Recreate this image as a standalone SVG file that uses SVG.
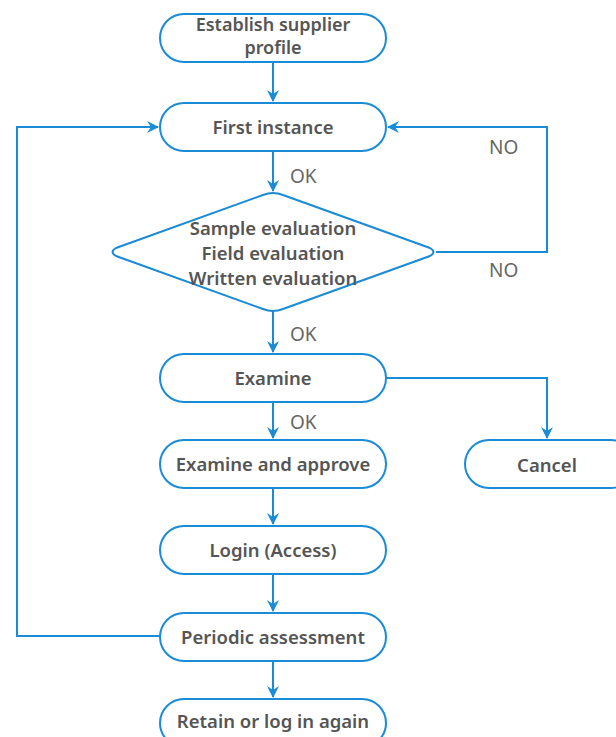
<svg xmlns="http://www.w3.org/2000/svg" width="616" height="737" viewBox="0 0 616 737">
<style>
.n{fill:#fff;stroke:#1a8bd6;stroke-width:2}
.t{font-family:"Noto Sans",sans-serif;font-size:18.5px;font-weight:600;fill:#555;text-anchor:middle}
.s{font-size:18px}
.l{font-family:"Noto Sans",sans-serif;font-size:19px;fill:#666}
.c{fill:none;stroke:#1a8bd6;stroke-width:2}
</style>
<defs>
<marker id="a" viewBox="0 0 12 12" refX="11" refY="6" markerWidth="12" markerHeight="12" markerUnits="userSpaceOnUse" orient="auto">
<path d="M0,0 L12,6 L0,12 L4,6 Z" fill="#1a8bd6"/>
</marker>
</defs>
<g id="connectors">
<path class="c" d="M273,62 V101" marker-end="url(#a)"/>
<path class="c" d="M273,151 V191" marker-end="url(#a)"/>
<path class="c" d="M273,311 V352" marker-end="url(#a)"/>
<path class="c" d="M273,402 V438" marker-end="url(#a)"/>
<path class="c" d="M273,488 V524" marker-end="url(#a)"/>
<path class="c" d="M273,574 V611" marker-end="url(#a)"/>
<path class="c" d="M273,660 V697" marker-end="url(#a)"/>
<path class="c" d="M436,252 H547 V127 H388" marker-end="url(#a)"/>
<path class="c" d="M160,636 H17 V127 H158" marker-end="url(#a)"/>
<path class="c" d="M386,378 H547 V438" marker-end="url(#a)"/>
<text class="l" x="290" y="183">OK</text>
<text class="l" x="290" y="341">OK</text>
<text class="l" x="290" y="429">OK</text>
<text class="l" x="489" y="154">NO</text>
<text class="l" x="489" y="277">NO</text>
</g>
<g id="n1"><rect class="n" x="160" y="14" width="226" height="48" rx="24"/>
<text class="t s" x="273" y="31">Establish supplier</text><text class="t s" x="273" y="54">profile</text></g>
<g id="n2"><rect class="n" x="160" y="103" width="226" height="48" rx="24"/>
<text class="t" x="273" y="134">First instance</text></g>
<g id="n3"><path class="n" d="M273,193 Q278,193 283,195 L430,248 Q437,252 430,256 L283,309 Q278,311 273,311 Q268,311 263,309 L116,256 Q109,252 116,248 L263,195 Q268,193 273,193 Z"/>
<text class="t" x="273" y="235">Sample evaluation</text><text class="t" x="273" y="260">Field evaluation</text><text class="t" x="273" y="285">Written evaluation</text></g>
<g id="n4"><rect class="n" x="160" y="354" width="226" height="48" rx="24"/>
<text class="t" x="273" y="385">Examine</text></g>
<g id="n5"><rect class="n" x="160" y="440" width="226" height="48" rx="24"/>
<text class="t" x="273" y="471">Examine and approve</text></g>
<g id="n6"><rect class="n" x="465" y="440" width="170" height="48" rx="24"/>
<text class="t" x="547" y="472">Cancel</text></g>
<g id="n7"><rect class="n" x="160" y="526" width="226" height="48" rx="24"/>
<text class="t" x="273" y="557">Login (Access)</text></g>
<g id="n8"><rect class="n" x="160" y="613" width="226" height="48" rx="24"/>
<text class="t" x="273" y="644">Periodic assessment</text></g>
<g id="n9"><rect class="n" x="160" y="699" width="226" height="48" rx="24"/>
<text class="t" x="273" y="728">Retain or log in again</text></g>
</svg>
